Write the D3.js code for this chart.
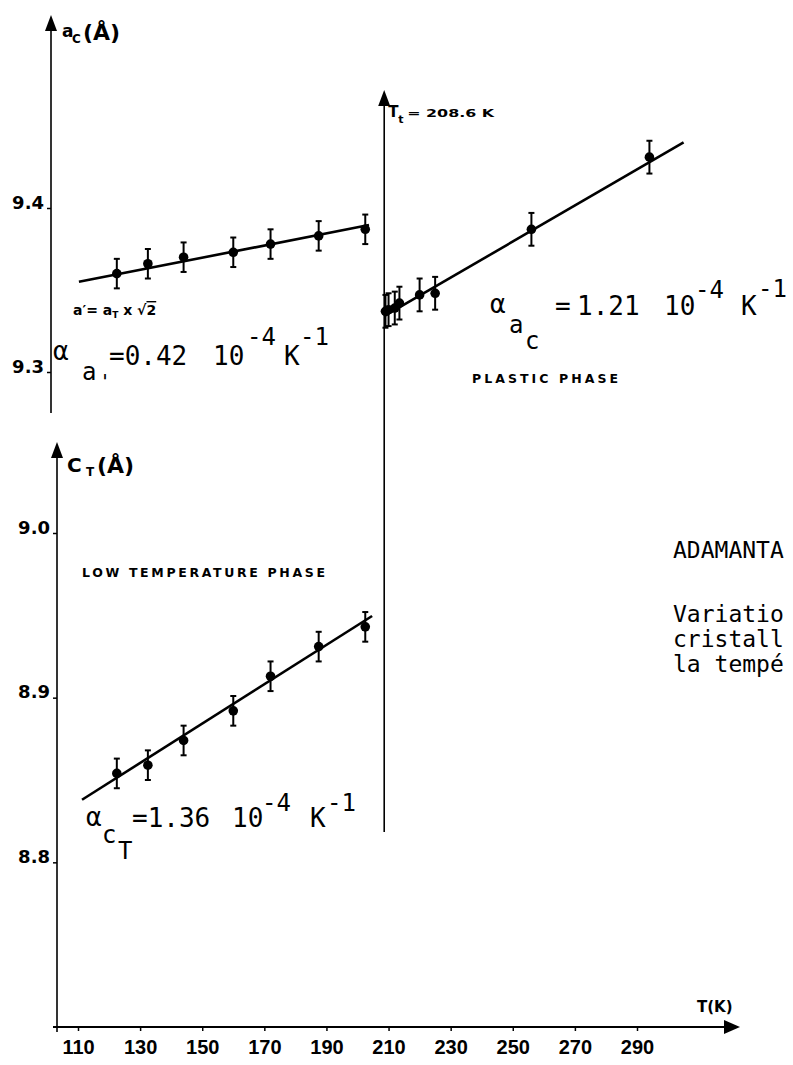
<!DOCTYPE html>
<html>
<head>
<meta charset="utf-8">
<script src="https://cdn.jsdelivr.net/npm/d3@7"></script>
<style>
  body { margin: 0; background: #fff; }
  svg { display: block; }
</style>
</head>
<body>
<svg id="chart" width="793" height="1065"></svg>
<script>
// low temperature phase: measurement temperatures (K)
const lowT = [122.5, 132.5, 144, 160, 172, 187.5, 202.5]
// a' = aT x sqrt(2)  (Å)
const aPrime = [9.360, 9.366, 9.370, 9.373, 9.378, 9.383, 9.387]
const aPrimeErr = 0.009
// cT (Å)
const cT = [8.854, 8.859, 8.874, 8.892, 8.913, 8.931, 8.943]
const cTErr = 0.009

// plastic phase
const plasticT = [209, 210, 212, 213.5, 220, 225, 256, 294]
const aC = [9.337, 9.338, 9.339, 9.342, 9.347, 9.348, 9.387, 9.431]
const aCErr = 0.01

// fitted lines, [T, value]
const fitAPrime = [[110.3, 9.355], [203.7, 9.3896]]
const fitCT = [[111.3, 8.838], [204.7, 8.9496]]
const fitAC = [[208.6, 9.334], [305, 9.440]]

const Tt = 208.6
const xTicks = [110, 130, 150, 170, 190, 210, 230, 250, 270, 290]
const aTicks = [9.3, 9.4]
const cTicks = [8.8, 8.9, 9.0]

const svg = d3.select('#chart')

const x = d3.scaleLinear().domain([110, 290]).range([78, 637])
const yA = d3.scaleLinear().domain([9.3, 9.4]).range([372, 208])
const yC = d3.scaleLinear().domain([8.7, 9.0]).range([1027, 533])

const axisX = { up: 51, low: 57 }

function arrowUp(px, py) {
  svg.append('path')
    .attr('d', `M${px},${py} L${px - 6},${py + 16} L${px + 6},${py + 16} Z`)
    .attr('fill', '#000')
}

// axes lines
svg.append('line')
  .attr('x1', axisX.up).attr('x2', axisX.up)
  .attr('y1', 413).attr('y2', 22)
  .attr('stroke', '#000').attr('stroke-width', 1.6)
arrowUp(axisX.up, 15)

svg.append('line')
  .attr('x1', axisX.low).attr('x2', axisX.low)
  .attr('y1', 1032).attr('y2', 450)
  .attr('stroke', '#000').attr('stroke-width', 1.6)
arrowUp(axisX.low, 442)

svg.append('line')
  .attr('x1', x(Tt)).attr('x2', x(Tt))
  .attr('y1', 832).attr('y2', 98)
  .attr('stroke', '#000').attr('stroke-width', 1.6)
arrowUp(x(Tt), 90)

svg.append('line')
  .attr('x1', 53).attr('x2', 726)
  .attr('y1', 1027).attr('y2', 1027)
  .attr('stroke', '#000').attr('stroke-width', 1.8)
svg.append('path')
  .attr('d', 'M740,1027 L724,1020 L724,1034 Z')
  .attr('fill', '#000')

// tick axes
const gx = svg.append('g')
  .attr('transform', 'translate(0,1027)')
  .call(d3.axisBottom(x).tickValues(xTicks).tickSize(4).tickPadding(9).tickFormat(d3.format('d')))
gx.select('.domain').remove()
gx.selectAll('line').attr('stroke-width', 1.5)
gx.selectAll('text')
  .attr('font-family', 'Liberation Sans, Arial, sans-serif')
  .attr('font-weight', 'bold')
  .attr('font-size', 20)
  .attr('fill', '#000')

function yAxis(scale, ticks, px) {
  const g = svg.append('g')
    .attr('transform', `translate(${px},0)`)
    .call(d3.axisLeft(scale).tickValues(ticks).tickSize(4).tickPadding(3).tickFormat(d3.format('.1f')))
  g.select('.domain').remove()
  g.selectAll('line').attr('stroke-width', 1.5)
  g.selectAll('text')
    .attr('dy', 0)
    .attr('font-family', 'DejaVu Sans, sans-serif')
    .attr('font-weight', 'bold')
    .attr('font-size', 18)
    .attr('fill', '#000')
}
yAxis(yA, aTicks, axisX.up)
yAxis(yC, cTicks, axisX.low)

// fit lines
const line = d3.line()
function fit(pts, ys) {
  svg.append('path')
    .attr('d', line(pts.map((d) => [x(d[0]), ys(d[1])])))
    .attr('stroke', '#000').attr('stroke-width', 2.6).attr('fill', 'none')
}
fit(fitAPrime, yA)
fit(fitCT, yC)
fit(fitAC, yA)

// points with error bars
function series(ts, vals, err, ys) {
  const data = ts.map((t, i) => ({ t: t, v: vals[i] }))
  const g = svg.append('g')
  const bars = g.selectAll('g.bar').data(data).enter().append('g')
  bars.append('line')
    .attr('x1', (d) => x(d.t)).attr('x2', (d) => x(d.t))
    .attr('y1', (d) => ys(d.v - err)).attr('y2', (d) => ys(d.v + err))
    .attr('stroke', '#000').attr('stroke-width', 2)
  bars.append('line')
    .attr('x1', (d) => x(d.t) - 3).attr('x2', (d) => x(d.t) + 3)
    .attr('y1', (d) => ys(d.v + err)).attr('y2', (d) => ys(d.v + err))
    .attr('stroke', '#000').attr('stroke-width', 2)
  bars.append('line')
    .attr('x1', (d) => x(d.t) - 3).attr('x2', (d) => x(d.t) + 3)
    .attr('y1', (d) => ys(d.v - err)).attr('y2', (d) => ys(d.v - err))
    .attr('stroke', '#000').attr('stroke-width', 2)
  bars.append('circle')
    .attr('cx', (d) => x(d.t)).attr('cy', (d) => ys(d.v))
    .attr('r', 4.8).attr('fill', '#000')
}
series(lowT, aPrime, aPrimeErr, yA)
series(lowT, cT, cTErr, yC)
series(plasticT, aC, aCErr, yA)

// text helper
function txt(s, px, py, size, opts) {
  opts = opts || {}
  const t = svg.append('text')
    .attr('x', px).attr('y', py)
    .attr('font-size', size)
    .attr('font-family', opts.family || 'DejaVu Sans Mono, monospace')
    .attr('font-weight', opts.weight || 'normal')
    .attr('fill', '#000')
    .text(s)
  if (opts.len) t.attr('textLength', opts.len).attr('lengthAdjust', opts.adjust || 'spacingAndGlyphs')
  return t
}
const bold = { family: 'DejaVu Sans, sans-serif', weight: 'bold' }

// axis titles
txt('a', 62, 37, 17, bold)
txt('C', 72, 43, 12, bold)
txt('(Å)', 83, 40, 22, bold)
txt('C', 67, 472, 20, bold)
txt('T', 86, 476, 12, bold)
txt('(Å)', 97, 473, 22, bold)
txt('T(K)', 697, 1012, 15, bold)

// transition
const xt = x(Tt)
txt('T', xt + 4, 117, 15, bold)
txt('t', xt + 14, 123, 11, bold)
txt('= 208.6 K', xt + 23, 117, 11, Object.assign({ len: 87 }, bold))

// phase labels
txt('PLASTIC PHASE', 472, 383, 12.5, Object.assign({ len: 146, adjust: 'spacing' }, bold))
txt('LOW TEMPERATURE PHASE', 82, 577, 12.5, Object.assign({ len: 243, adjust: 'spacing' }, bold))

// a' = aT x sqrt2
const ap = txt('a′= a', 73, 315, 14, bold)
ap.append('tspan').attr('font-size', 9).attr('dy', 3).text('T')
ap.append('tspan').attr('dy', -3).text(' x √')
ap.append('tspan').attr('text-decoration', 'overline').text('2')

// expansion coefficients
txt('α', 53, 360, 26)
txt('a', 82, 380, 24)
txt("'", 99, 388, 20)
txt('=0.42', 109, 365, 26)
txt('10', 213, 365, 26)
txt('-4', 247, 345, 24)
txt('K', 284, 365, 26)
txt('-1', 300, 345, 24)

txt('α', 490, 313, 26)
txt('a', 509, 333, 24)
txt('c', 525, 349, 24)
txt('=', 555, 315, 26)
txt('1.21', 577, 315, 26)
txt('10', 664, 315, 26)
txt('-4', 695, 298, 24)
txt('K', 741, 315, 26)
txt('-1', 758, 297, 24)

txt('α', 86, 826, 26)
txt('c', 102, 843, 24)
txt('T', 118, 859, 24)
txt('=1.36', 132, 827, 26)
txt('10', 232, 827, 26)
txt('-4', 262, 811, 24)
txt('K', 310, 827, 26)
txt('-1', 327, 811, 24)

// caption, as far as it shows before the page edge
txt('ADAMANTA', 673, 558, 23)
txt('Variatio', 673, 622, 23)
txt('cristall', 673, 647, 23)
txt('la tempé', 673, 672, 23)
</script>
</body>
</html>
